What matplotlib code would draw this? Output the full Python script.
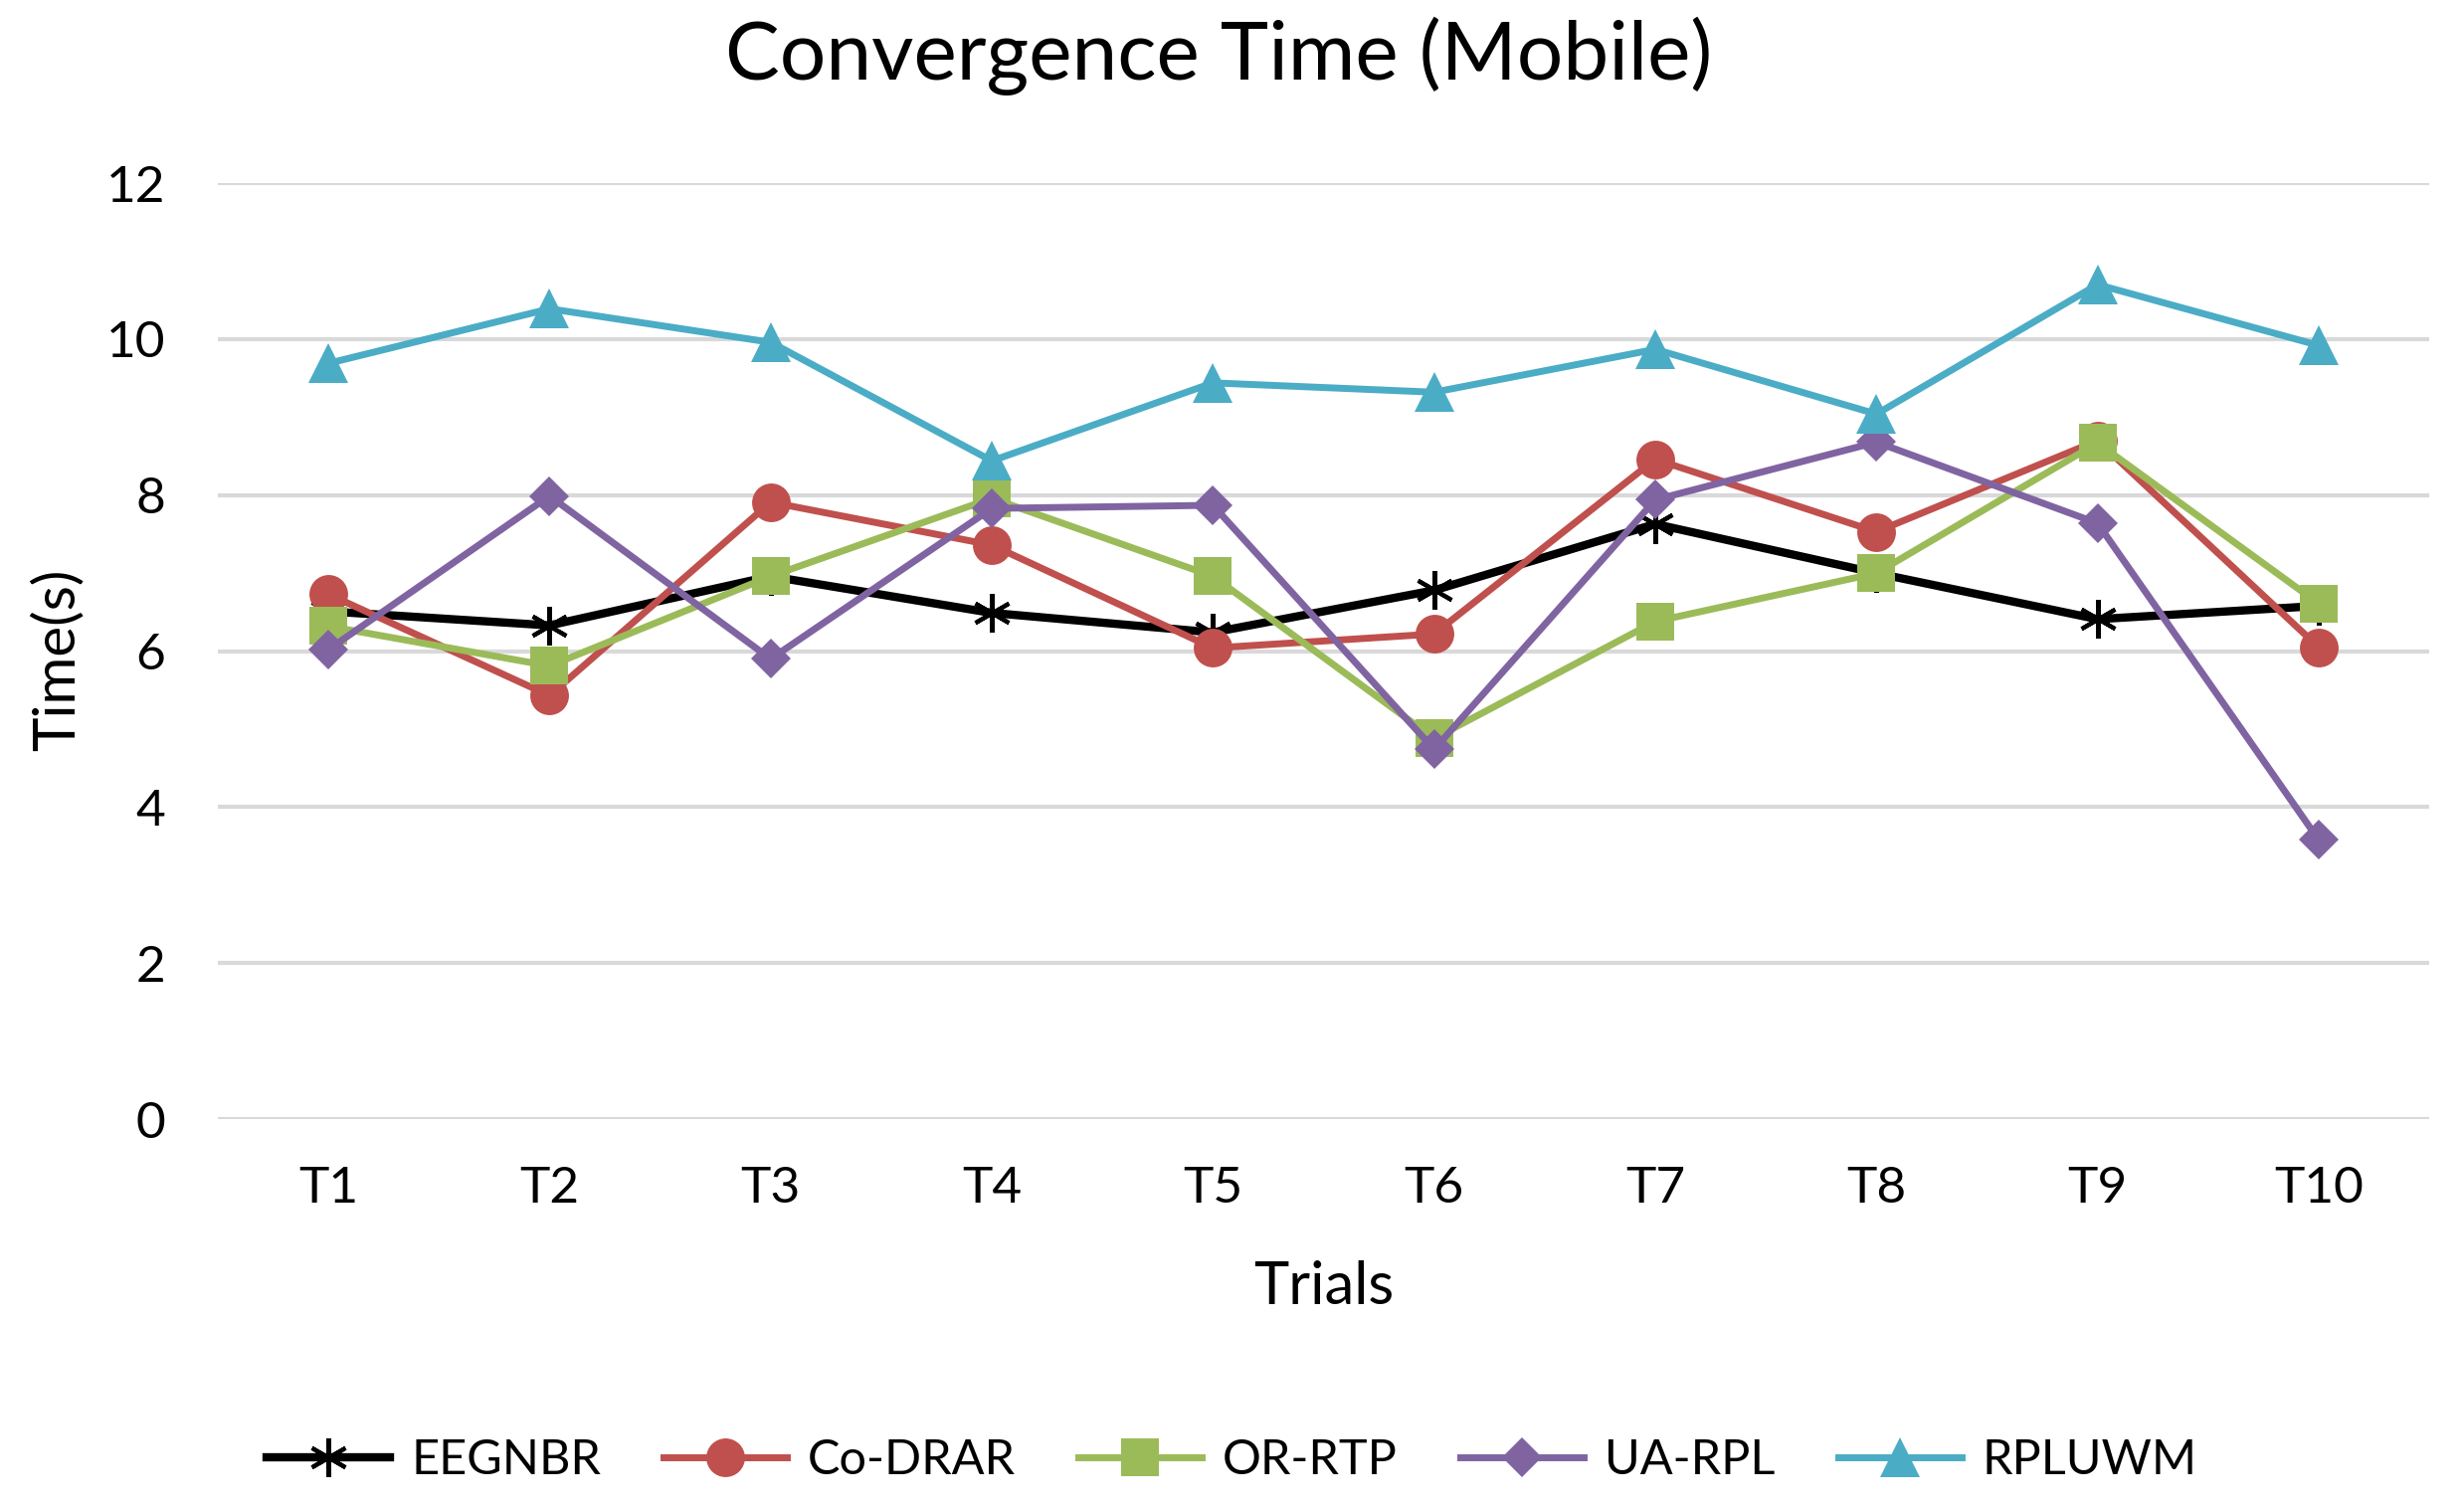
import matplotlib
matplotlib.use("Agg")
import matplotlib.pyplot as plt

plt.rcParams["font.family"] = ["Lato", "DejaVu Sans"]

trials = ["T1", "T2", "T3", "T4", "T5", "T6", "T7", "T8", "T9", "T10"]
eegnbr = [6.51, 6.33, 6.96, 6.49, 6.24, 6.78, 7.63, 7.00, 6.41, 6.58]
co_drar = [6.73, 5.43, 7.91, 7.36, 6.04, 6.22, 8.46, 7.53, 8.70, 6.05]
or_rtp = [6.32, 5.81, 6.96, 7.96, 6.96, 4.88, 6.38, 7.00, 8.67, 6.61]
ua_rpl = [6.02, 7.99, 5.90, 7.83, 7.87, 4.74, 7.94, 8.68, 7.64, 3.58]
rpluwm = [9.69, 10.39, 9.96, 8.44, 9.44, 9.32, 9.87, 9.04, 10.70, 9.92]

series = [
    ("EEGNBR", eegnbr, "#000000", (6, 2, 0), 28),
    ("Co-DRAR", co_drar, "#C0504D", "o", 28),
    ("OR-RTP", or_rtp, "#9BBB59", "s", 27),
    ("UA-RPL", ua_rpl, "#8064A2", "D", 20),
    ("RPLUWM", rpluwm, "#4BACC6", "^", 29),
]

fig = plt.figure(figsize=(24.77, 15.17), dpi=100)
ax = fig.add_axes([0.0884, 0.2584, 0.8975, 0.6202])

x = list(range(1, len(trials) + 1))
for name, vals, col, mk, ms in series:
    if name == "EEGNBR":
        ax.plot(x, vals, color=col, lw=6, marker=mk, ms=ms, mew=3,
                mec=col, label=name, clip_on=False, zorder=3)
    else:
        ax.plot(x, vals, color=col, lw=5, marker=mk, ms=ms, mew=0,
                mfc=col, label=name, clip_on=False, zorder=3)

ax.set_xlim(0.5, 10.5)
ax.set_ylim(0, 12)
ax.set_yticks(range(0, 13, 2))
ax.set_xticks(x)
ax.set_xticklabels(trials)
ax.grid(axis="y", color="#D9D9D9", lw=3)
ax.set_axisbelow(True)
for s in ax.spines.values():
    s.set_visible(False)
ax.tick_params(length=0, labelsize=37)
ax.tick_params(axis="y", pad=38)
ax.tick_params(axis="x", pad=34)

ax.set_xlabel("Trials", fontsize=43, va="center")
ax.xaxis.set_label_coords(0.500, -0.180)
ax.set_ylabel("Time(s)", fontsize=42, va="center")
ax.yaxis.set_label_coords(-0.0724, 0.491)

fig.text(0.4946, 0.963, "Convergence Time (Mobile)", fontsize=59,
         ha="center", va="center")

fig.legend(loc="center", bbox_to_anchor=(0.5, 0.032), ncol=5,
           frameon=False, fontsize=35, handlelength=2.55, columnspacing=1.3,
           handletextpad=0.43)

fig.savefig("out.png", dpi=100)
